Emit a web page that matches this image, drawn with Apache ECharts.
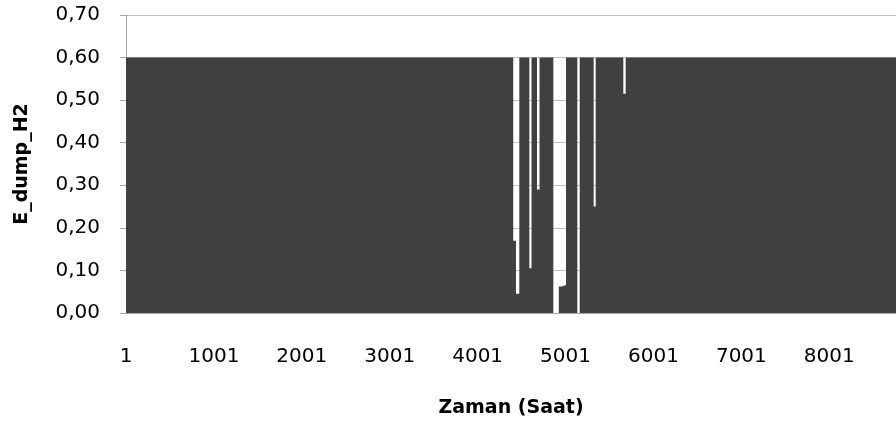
<!DOCTYPE html>
<html>
<head>
<meta charset="utf-8">
<script src="https://cdn.jsdelivr.net/npm/echarts@6/dist/echarts.min.js"></script>
<style>html,body{margin:0;padding:0;background:#fff;}#c{width:896px;height:430px;}</style>
</head>
<body>
<div id="c"></div>
<script>
// Hour at which each level starts (step data)
const hours  = [1, 4406, 4437, 4475, 4589, 4614, 4676, 4705, 4862, 4924, 4957, 5006, 5135, 5162, 5321, 5344, 5658, 5685, 8760];
// E_dump_H2 level holding from that hour until the next one
const values = [0.60, 0.17, 0.045, 0.60, 0.105, 0.60, 0.29, 0.60, 0.00, 0.062, 0.066, 0.60, 0.00, 0.60, 0.25, 0.60, 0.515, 0.60, 0.60];
// Category tick labels on the time axis
const xTicks = [1, 1001, 2001, 3001, 4001, 5001, 6001, 7001, 8001];
const yTicks = [0, 0.1, 0.2, 0.3, 0.4, 0.5, 0.6, 0.7];

const FONT = 'DejaVu Sans';
const chart = echarts.init(document.getElementById('c'), null, {renderer: 'canvas'});
chart.setOption({
  animation: false,
  backgroundColor: '#ffffff',
  grid: {left: 126, right: 0, top: 15, bottom: 117, containLabel: false},
  xAxis: {
    type: 'value',
    min: 1,
    max: 8760,
    name: 'Zaman (Saat)',
    nameLocation: 'middle',
    nameGap: 86,
    nameTextStyle: {fontFamily: FONT, fontSize: 19, fontWeight: 'bold', color: '#000'},
    axisLine: {show: true, lineStyle: {color: '#a6a6a6', width: 1}},
    axisTick: {show: false},
    splitLine: {show: false},
    axisLabel: {
      customValues: xTicks,
      margin: 34,
      fontFamily: FONT, fontSize: 20, color: '#000',
      formatter: v => String(v)
    }
  },
  yAxis: {
    type: 'value',
    min: yTicks[0],
    max: yTicks[yTicks.length - 1],
    interval: 0.1,
    name: 'E_dump_H2',
    nameLocation: 'middle',
    nameGap: 94,
    nameRotate: 90,
    nameTextStyle: {fontFamily: FONT, fontSize: 19, fontWeight: 'bold', color: '#000'},
    axisLine: {show: true, lineStyle: {color: '#a6a6a6', width: 1}},
    axisTick: {show: true, length: 6, lineStyle: {color: '#a6a6a6'}},
    splitLine: {show: true, lineStyle: {color: '#bfbfbf', width: 1}},
    axisLabel: {
      margin: 26,
      fontFamily: FONT, fontSize: 20, color: '#000',
      formatter: v => v.toFixed(2).replace('.', ',')
    }
  },
  series: [{
    type: 'line',
    step: 'end',
    symbol: 'none',
    data: hours.map((h, i) => [h, values[i]]),
    lineStyle: {width: 0},
    areaStyle: {color: '#404040', opacity: 1}
  }]
});
</script>
</body>
</html>
